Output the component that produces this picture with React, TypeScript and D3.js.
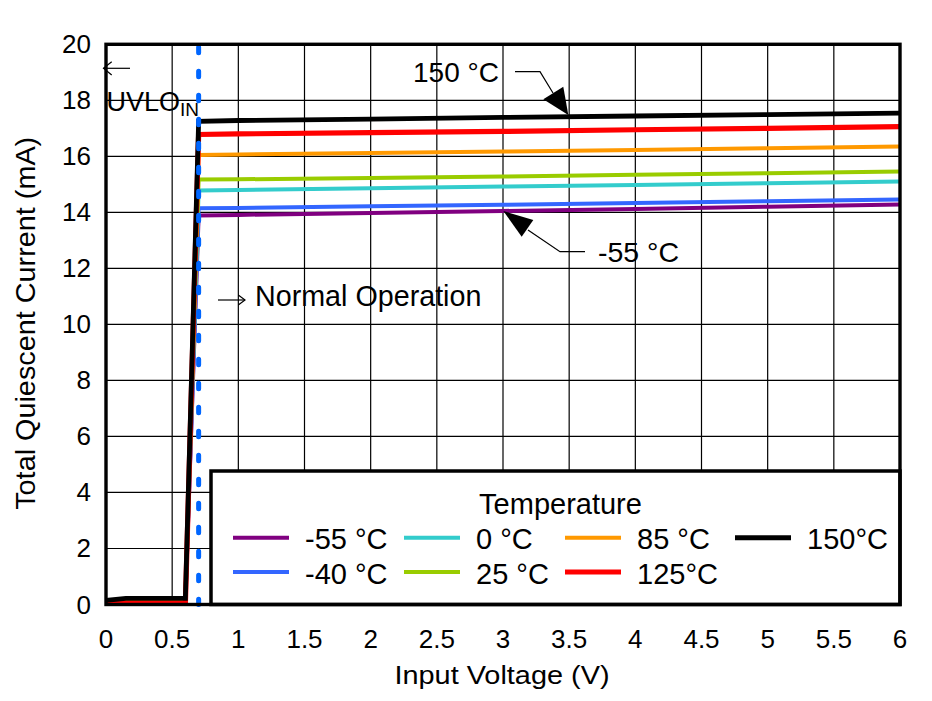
import React from "react";
import * as d3 from "d3";

// ---------- data ----------
const voltage = [0, 0.15, 0.6, 0.7, 1, 2, 3, 4, 5, 6];
const iqM55 = [0.1, 0.15, 0.18, 13.89, 13.91, 13.98, 14.05, 14.12, 14.2, 14.28];
const iqM40 = [0.1, 0.15, 0.18, 14.15, 14.16, 14.22, 14.27, 14.33, 14.4, 14.46];
const iq0 = [0.1, 0.15, 0.18, 14.78, 14.8, 14.86, 14.92, 14.98, 15.04, 15.1];
const iq25 = [0.1, 0.15, 0.18, 15.17, 15.18, 15.23, 15.28, 15.34, 15.4, 15.46];
const iq85 = [0.1, 0.15, 0.18, 16.05, 16.07, 16.12, 16.17, 16.23, 16.29, 16.35];
const iq125 = [0.04, 0.04, 0.05, 16.78, 16.8, 16.85, 16.89, 16.95, 17.0, 17.06];
const iq150 = [0.15, 0.22, 0.22, 17.25, 17.28, 17.33, 17.39, 17.44, 17.49, 17.54];
const seriesLabels = ["-55 °C", "-40 °C", "0 °C", "25 °C", "85 °C", "125°C", "150°C"];
const xTickValues = [0, 0.5, 1, 1.5, 2, 2.5, 3, 3.5, 4, 4.5, 5, 5.5, 6];
const xTickLabels = ["0", "0.5", "1", "1.5", "2", "2.5", "3", "3.5", "4", "4.5", "5", "5.5", "6"];
const yTickValues = [0, 2, 4, 6, 8, 10, 12, 14, 16, 18, 20];
const yTickLabels = ["0", "2", "4", "6", "8", "10", "12", "14", "16", "18", "20"];
const uvloVoltage = 0.7;
const legendTitle = "Temperature";
const xAxisTitle = "Input Voltage (V)";
const yAxisTitle = "Total Quiescent Current (mA)";

// ---------- styles ----------
const seriesValues = [iqM55, iqM40, iq0, iq25, iq85, iq125, iq150];
const seriesColors = ["#800080", "#3366ff", "#33cccc", "#99cc00", "#ff9900", "#ff0000", "#000000"];
const seriesWidths = [4, 4, 4, 4, 4, 5.2, 4.8];
const FONT = "'Liberation Sans', Arial, Helvetica, sans-serif";

export default function App() {
  const W = 932;
  const H = 701;
  const left = 106;
  const right = 900;
  const top = 44.3;
  const bottom = 604.5;
  const x = d3.scaleLinear().domain([0, 6]).range([left, right]);
  const y = d3.scaleLinear().domain([0, 20]).range([bottom, top]);

  const line = d3
    .line<[number, number]>()
    .x((d) => x(d[0]))
    .y((d) => y(d[1]));

  const series = seriesValues.map((vals, i) => ({
    label: seriesLabels[i],
    color: seriesColors[i],
    width: seriesWidths[i],
    points: voltage.map((v, j) => [v, vals[j]] as [number, number]),
  }));

  // legend layout
  const lgX0 = 211;
  const lgY0 = 471;
  const colSwatch = [233, 404, 565, 735];
  const colText = [305, 476, 637, 807];
  const rowY = [537.7, 572];
  const legendItems = series.map((s, i) => ({
    ...s,
    col: Math.floor(i / 2),
    row: i % 2,
  }));

  return (
    <svg
      width={W}
      height={H}
      viewBox={`0 0 ${W} ${H}`}
      style={{ position: "absolute", left: 0, top: 0, background: "#fff" }}
      fontFamily={FONT}
    >
      <rect x={0} y={0} width={W} height={H} fill="#fff" />
      {/* grid */}
      <g stroke="#000" strokeWidth={1.2}>
        {xTickValues.map((v) => (
          <line key={"gx" + v} x1={x(v)} x2={x(v)} y1={top} y2={bottom} />
        ))}
        {yTickValues.map((v) => (
          <line key={"gy" + v} x1={left} x2={right} y1={y(v)} y2={y(v)} />
        ))}
      </g>

      {/* series */}
      {series.map((s) => (
        <path
          key={s.label}
          d={line(s.points) || ""}
          fill="none"
          stroke={s.color}
          strokeWidth={s.width}
          strokeLinejoin="miter"
        />
      ))}

      {/* UVLO dotted line */}
      <line
        x1={x(uvloVoltage)}
        x2={x(uvloVoltage)}
        y1={top + 3}
        y2={bottom}
        stroke="#0066ff"
        strokeWidth={5}
        strokeDasharray="5.5 18.5"
        strokeLinecap="round"
      />

      {/* legend */}
      <rect
        x={lgX0}
        y={lgY0}
        width={right - lgX0}
        height={bottom - lgY0}
        fill="#fff"
        stroke="#000"
        strokeWidth={3.5}
      />
      <text x={560.5} y={514} fontSize={29} textAnchor="middle" fill="#000">
        {legendTitle}
      </text>
      {legendItems.map((it) => (
        <g key={"lg" + it.label}>
          <line
            x1={colSwatch[it.col]}
            x2={colSwatch[it.col] + 56}
            y1={rowY[it.row]}
            y2={rowY[it.row]}
            stroke={it.color}
            strokeWidth={it.label.startsWith("1") ? 5 : 4}
          />
          <text x={colText[it.col]} y={rowY[it.row] + 11.6} fontSize={29} fill="#000">
            {it.label}
          </text>
        </g>
      ))}

      {/* frame */}
      <rect
        x={left}
        y={top}
        width={right - left}
        height={bottom - top}
        fill="none"
        stroke="#000"
        strokeWidth={3.4}
      />

      {/* x tick labels */}
      {xTickValues.map((v, i) => (
        <text key={"xt" + v} x={x(v)} y={648} fontSize={26} textAnchor="middle" fill="#000">
          {xTickLabels[i]}
        </text>
      ))}
      {/* y tick labels */}
      {yTickValues.map((v, i) => (
        <text key={"yt" + v} x={91} y={y(v) + 9} fontSize={26} textAnchor="end" fill="#000">
          {yTickLabels[i]}
        </text>
      ))}

      {/* axis titles */}
      <text
        x={502}
        y={684}
        fontSize={26}
        textAnchor="middle"
        textLength={215}
        lengthAdjust="spacingAndGlyphs"
        fill="#000"
      >
        {xAxisTitle}
      </text>
      <text
        transform="translate(35,323.3) rotate(-90)"
        fontSize={28}
        textAnchor="middle"
        textLength={373}
        lengthAdjust="spacingAndGlyphs"
        fill="#000"
      >
        {yAxisTitle}
      </text>

      {/* annotations */}
      <g stroke="#000" strokeWidth={1.2} fill="none">
        <line x1={103.5} x2={130} y1={68.3} y2={68.3} />
        <polyline points="111.7,61.7 103.5,68.3 111.7,75" />
        <line x1={218} x2={245} y1={300} y2={300} />
        <polyline points="238.3,295 245,300 238.3,305" />
        <polyline points="515,71.7 540,71.7 553,93" />
        <polyline points="528,230 560,251.7 585,251.7" />
      </g>
      <polygon points="543.3,99.3 563.3,86.7 568.3,115" fill="#000" />
      <polygon points="503.3,211 533.3,220 521.7,236.7" fill="#000" />

      <text x={106.5} y={111} fontSize={27} fill="#000">
        UVLO
      </text>
      <text x={180} y={116} fontSize={19} fill="#000">
        IN
      </text>
      <text x={255} y={305.7} fontSize={28.7} fill="#000">
        Normal Operation
      </text>
      <text x={413} y={81.7} fontSize={28} fill="#000">
        150 °C
      </text>
      <text x={598} y={261.7} fontSize={28.5} fill="#000">
        -55 °C
      </text>
    </svg>
  );
}
